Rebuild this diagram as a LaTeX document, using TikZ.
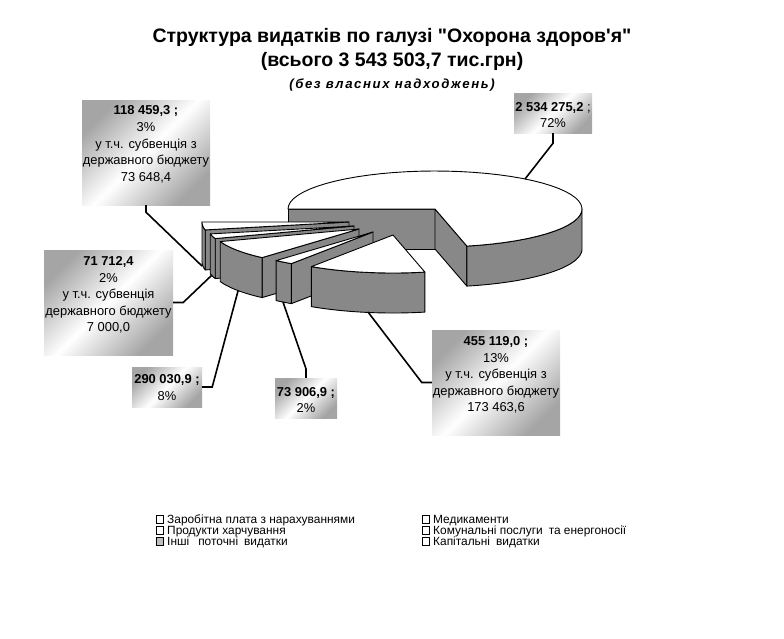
\documentclass[tikz,border=0pt]{standalone}
\usepackage{fontspec}
\setmainfont{Liberation Sans}
\definecolor{sidegray}{RGB}{136,136,136}
\definecolor{boxgray}{RGB}{165,165,165}
\definecolor{leggray}{RGB}{190,190,190}
\newcommand\slicetop[4]{\draw[topface] (#1,#2) -- plot[domain=#3:#4,samples=50] ({#1+147*cos(\x)},{#2-38*sin(\x)}) -- cycle;}
\newcommand\slicerim[4]{\draw[sideface] plot[domain=#3:#4,samples=50] ({#1+147*cos(\x)},{#2-38*sin(\x)}) -- plot[domain=#4:#3,samples=50] ({#1+147*cos(\x)},{#2+40-38*sin(\x)}) -- cycle;}
\newcommand\sliceface[3]{\draw[sideface] (#1,#2) -- ({#1+147*cos(#3)},{#2-38*sin(#3)}) -- ({#1+147*cos(#3)},{#2+40-38*sin(#3)}) -- (#1,{#2+40}) -- cycle;}
\begin{document}
\begin{tikzpicture}[x=1pt,y=-1pt,
 sideface/.style={fill=sidegray,draw=black,line width=0.9pt,line join=round},
 topface/.style={fill=white,draw=black,line width=0.9pt,line join=round},
 lbox/.style={inner sep=0pt,top color=boxgray,bottom color=boxgray,middle color=white,shading angle=45},
 ltext/.style={align=center,inner sep=0pt,font=\fontsize{12.9}{16.6}\selectfont},
 leader/.style={draw=black,line width=1.6pt},
 legmark/.style={draw=black,line width=0.7pt,fill=white,minimum size=7.5pt,inner sep=0pt},
 legtext/.style={anchor=base west,inner sep=0pt,font=\fontsize{11.9}{12}\selectfont},
 title/.style={inner sep=0pt,anchor=base,font=\bfseries\fontsize{19.5}{22}\selectfont}]
\useasboundingbox (0,0) rectangle (784,638);

% titles
\node[title] (t1) at (392,42) {Структура видатків по галузі \textquotedbl Охорона здоров\textquotesingle я\textquotedbl};
\node[title] (t2) at (392,66) {(всього 3 543 503,7 тис.грн)};
\node[inner sep=0pt,anchor=base,font=\bfseries\itshape\fontsize{13.2}{15}\selectfont\addfontfeatures{LetterSpace=12}] (t3) at (392,88) {(без власних надходжень)};

% pie: big slice
\sliceface{435}{209}{180}
\sliceface{435}{209}{-77.47}
\slicerim{435}{209}{-77.47}{0}
\slicetop{435}{209}{-77.47}{180}
% 3%
\sliceface{349}{222}{-167.98}
\slicerim{349}{222}{-180}{-167.98}
\slicetop{349}{222}{-180}{-167.98}
% 2% (71 712,4)
\sliceface{354}{226}{-160.69}
\slicerim{354}{226}{-167.98}{-160.69}
\slicetop{354}{226}{-167.98}{-160.69}
% 8%
\sliceface{359}{229}{-131.22}
\slicerim{359}{229}{-160.69}{-131.22}
\slicetop{359}{229}{-160.69}{-131.22}
% 2% (73 906,9)
\sliceface{373}{232}{-123.71}
\slicerim{373}{232}{-131.22}{-123.71}
\slicetop{373}{232}{-131.22}{-123.71}
% 13%
\slicerim{393}{235}{-123.71}{-77.47}
\slicetop{393}{235}{-123.71}{-77.47}

% leader end points
\coordinate (eF) at (525,179);
\coordinate (eA) at (202,266);
\coordinate (eB) at (212,275);
\coordinate (eC) at (238,291);
\coordinate (eD) at (283,302);
\coordinate (eE) at (368,312);

% label boxes
\node[lbox,minimum width=128pt,minimum height=105pt] (bA) at (146,152.5) {};
\node[lbox,minimum width=129pt,minimum height=105pt] (bB) at (108.5,302.5) {};
\node[lbox,minimum width=70pt,minimum height=40pt] (bC) at (167,387) {};
\node[lbox,minimum width=62pt,minimum height=40pt] (bD) at (306,398) {};
\node[lbox,minimum width=128pt,minimum height=105pt] (bE) at (496,382.5) {};
\node[lbox,minimum width=78pt,minimum height=40pt] (bF) at (553,113) {};

% leaders
\draw[leader] (bF.south) -- ++(0,10) -- (eF);
\draw[leader] (bA.south) -- ++(0,7) -- (eA);
\draw[leader] (bB.east) -- ++(10,0) -- (eB);
\draw[leader] (bC.east) -- ++(10,0) -- (eC);
\draw[leader] (bD.north) -- ++(0,-9) -- (eD);
\draw[leader] (bE.west) -- ++(-10,0) -- (eE);

% label texts
\node[ltext] (tA) at (146,144.5) {\textbf{118 459,3 ;}\\3\%\\у т.ч. субвенція з\\державного бюджету\\73 648,4};
\node[ltext] (tB) at (108.5,295) {\textbf{71 712,4}\\2\%\\у т.ч. субвенція\\державного бюджету\\7 000,0};
\node[ltext] (tC) at (167,387.5) {\textbf{290 030,9 ;}\\8\%};
\node[ltext] (tD) at (306,400) {\textbf{73 906,9 ;}\\2\%};
\node[ltext] (tE) at (496,375) {\textbf{455 119,0 ;}\\13\%\\у т.ч. субвенція з\\державного бюджету\\173 463,6};
\node[ltext] (tF) at (553,115) {\textbf{2 534 275,2} ;\\72\%};

% legend
\node[legmark] (m1) at (160,519.5) {};
\node[legmark] (m2) at (160,530.5) {};
\node[legmark,fill=leggray] (m3) at (160,541.5) {};
\node[legmark] (m4) at (426,519.5) {};
\node[legmark] (m5) at (426,530.5) {};
\node[legmark] (m6) at (426,541.5) {};
\node[legtext] (l1) at (167,523.5) {Заробітна плата з нарахуваннями};
\node[legtext] (l2) at (167,534.5) {Продукти харчування};
\node[legtext] (l3) at (167,545.5) {Інші\hspace{9pt}поточні\hspace{6pt}видатки};
\node[legtext] (l4) at (433,523.5) {Медикаменти};
\node[legtext] (l5) at (433,534.5) {Комунальні послуги\hspace{6pt}та енергоносії};
\node[legtext] (l6) at (433,545.5) {Капітальні\hspace{6pt}видатки};
\end{tikzpicture}
\end{document}
